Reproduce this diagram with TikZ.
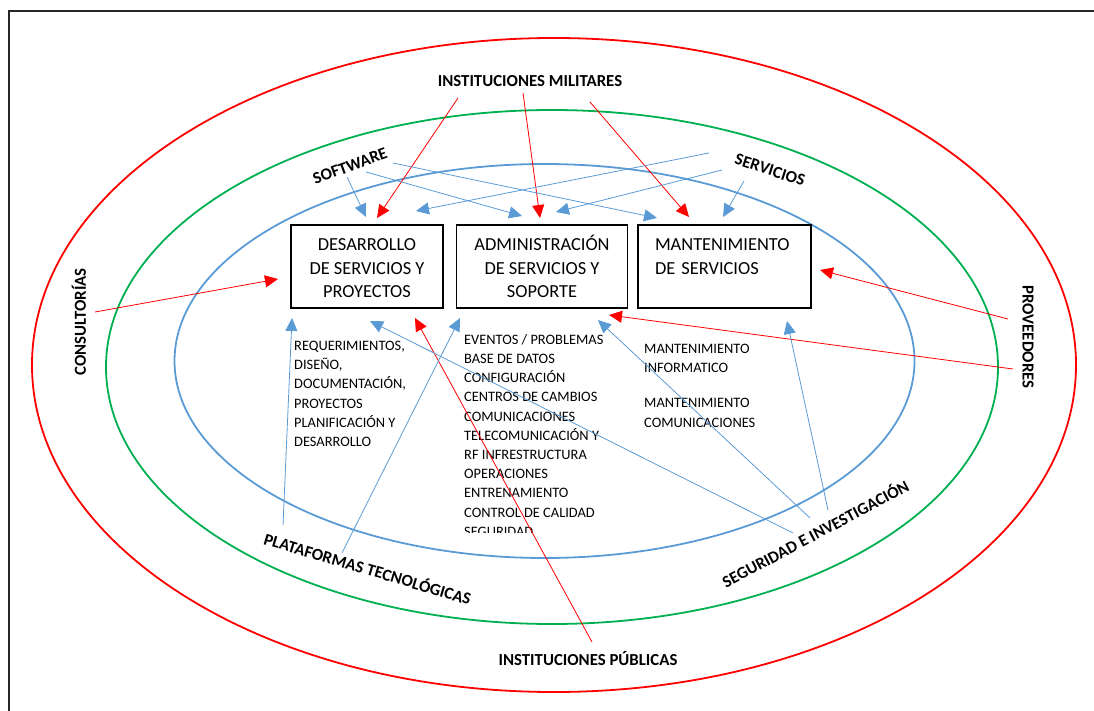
\documentclass[tikz,border=0pt]{standalone}
\usepackage{fontspec}
\setmainfont{Carlito}
\usepackage{tikz}
\usepackage{xcolor}
\usetikzlibrary{arrows.meta, positioning}
\definecolor{azul}{RGB}{91,155,213}
\definecolor{verde}{RGB}{0,176,80}
\definecolor{rojo}{RGB}{255,0,0}
\tikzstyle{area} = [rectangle, 
minimum height=83pt, 
inner sep=0pt, 
align=center, 
font=\fontsize{18.4}{23.5}\selectfont, 
line width=1.5pt, 
draw=black]
\tikzstyle{lista} = [anchor=north west, 
inner sep=0pt, 
align=left, 
font=\fontsize{14.4}{19.2}\selectfont]
\tikzstyle{grupo} = [inner sep=0pt, 
font=\fontsize{16.8}{18}\selectfont\bfseries]
\tikzstyle{flecharoja} = [draw=rojo, line width=0.8pt, -{Triangle[length=13pt,width=12pt]}]
\tikzstyle{flechaazul} = [draw=azul, line width=0.8pt, -{Triangle[length=13pt,width=12pt]}]

\begin{document}
\begin{tikzpicture}[x=1pt, y=-1pt, node distance=12pt]
        \useasboundingbox (0,0) rectangle (1094,711);

        % --- Marco y elipses ---
        \draw [line width=2pt, black!85] (9,711) -- (9,11) -- (1094,11);
        \draw [rojo, line width=1.8pt] (554,365) ellipse [x radius=522, y radius=327];
        \draw [verde, line width=1.8pt] (552,367) ellipse [x radius=446, y radius=257];
        \draw [azul, line width=1.8pt] (544.5,361) ellipse [x radius=370, y radius=197];

        % --- Definición de nodos (áreas) ---
        \node (desarrollo) [area, minimum width=152pt] at (367,266.5) {DESARROLLO\vphantom{Ó}\\DE SERVICIOS Y\\PROYECTOS};
        \node (administracion) [area, minimum width=171pt, right=of desarrollo] {ADMINISTRACIÓN\\DE SERVICIOS Y\\SOPORTE};
        \node (mantenimiento) [area, minimum width=173pt, text width=139pt, align=left, right=9pt of administracion] {MANTENIMIENTO\vphantom{Ó}\\DE SERVICIOS\\\vphantom{P}};

        % Listas de actividades
        \node (req) [lista] at (294,341) {REQUERIMIENTOS,\\DISEÑO,\\DOCUMENTACIÓN,\\PROYECTOS\\PLANIFICACIÓN Y\\DESARROLLO};
        \begin{scope}
        \clip (455,320) rectangle (640,532);
        \node (eventos) [lista] at (464,334) {EVENTOS / PROBLEMAS\\BASE DE DATOS\\CONFIGURACIÓN\\CENTROS DE CAMBIOS\\COMUNICACIONES\\TELECOMUNICACIÓN Y\\RF INFRESTRUCTURA\\OPERACIONES\\ENTRENAMIENTO\\CONTROL DE CALIDAD\\SEGURIDAD};
        \end{scope}
        \node (mantlista) [lista] at (644,344) {MANTENIMIENTO\\INFORMATICO\\[16pt]MANTENIMIENTO\\COMUNICACIONES};

        % Nodos de los grupos (alrededor)
        \node (militares) [grupo] at (530,81) {INSTITUCIONES MILITARES};
        \node (publicas) [grupo] at (588,659) {INSTITUCIONES PÚBLICAS};
        \node (software) [grupo, rotate=20] at (350,166) {SOFTWARE};
        \node (servicios) [grupo, rotate=-18] at (770,170) {SERVICIOS};
        \node (consultorias) [grupo, rotate=90] at (79,322) {CONSULTORÍAS};
        \node (proveedores) [grupo, rotate=-90] at (1028,337) {PROVEEDORES};
        \node (plataformas) [grupo, rotate=-16.5] at (368,568) {PLATAFORMAS TECNOLÓGICAS};
        \node (seguridad) [grupo, rotate=28] at (815,533) {SEGURIDAD E INVESTIGACIÓN};

        % --- Extremos de las flechas ---
        \coordinate (mil1) at (458,98);   \coordinate (mil2) at (523,93);   \coordinate (mil3) at (590,102);
        \coordinate (con1) at (95,312);
        \coordinate (pro1) at (1008,319); \coordinate (pro2) at (1013,369);
        \coordinate (pub1) at (592,642);
        \coordinate (sof1) at (347,177);  \coordinate (sof2) at (366,172);  \coordinate (sof3) at (393,163);
        \coordinate (ser1) at (709,153);  \coordinate (ser2) at (722,170);  \coordinate (ser3) at (744,181);
        \coordinate (pla1) at (283,525);  \coordinate (pla2) at (342,553);
        \coordinate (seg1) at (793,533);  \coordinate (seg2) at (810,518);  \coordinate (seg3) at (828,510);

        \coordinate (des1) at (366,217); \coordinate (des2) at (377,218); \coordinate (des3) at (416,211);
        \coordinate (des4) at (278,279); \coordinate (des5) at (292,318); \coordinate (des6) at (370,321);
        \coordinate (des7) at (415,318);
        \coordinate (adm1) at (522,216); \coordinate (adm2) at (540,218); \coordinate (adm3) at (556,212);
        \coordinate (adm4) at (460,318); \coordinate (adm5) at (598,320); \coordinate (adm6) at (609,315);
        \coordinate (man1) at (657,218); \coordinate (man2) at (689,217); \coordinate (man3) at (723,217);
        \coordinate (man4) at (820,270); \coordinate (man5) at (787,321);

        % --- Conexiones rojas ---
        \draw [flecharoja] (mil1) -- (des2);
        \draw [flecharoja] (mil2) -- (adm2);
        \draw [flecharoja] (mil3) -- (man2);
        \draw [flecharoja] (con1) -- (des4);
        \draw [flecharoja] (pro1) -- (man4);
        \draw [flecharoja] (pro2) -- (adm6);
        \draw [flecharoja] (pub1) -- (des7);

        % --- Conexiones azules ---
        \draw [flechaazul] (sof1) -- (des1);
        \draw [flechaazul] (sof2) -- (adm1);
        \draw [flechaazul] (sof3) -- (man1);
        \draw [flechaazul] (ser1) -- (des3);
        \draw [flechaazul] (ser2) -- (adm3);
        \draw [flechaazul] (ser3) -- (man3);
        \draw [flechaazul] (pla1) -- (des5);
        \draw [flechaazul] (pla2) -- (adm4);
        \draw [flechaazul] (seg1) -- (des6);
        \draw [flechaazul] (seg2) -- (adm5);
        \draw [flechaazul] (seg3) -- (man5);

    \end{tikzpicture}
\end{document}
